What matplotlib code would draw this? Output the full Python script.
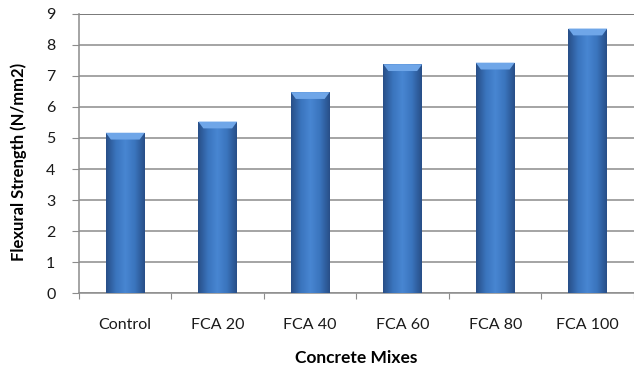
import numpy as np
import matplotlib.pyplot as plt
from matplotlib.colors import LinearSegmentedColormap

plt.rcParams['font.family'] = ['Lato', 'DejaVu Sans']

mixes = ['Control', 'FCA 20', 'FCA 40', 'FCA 60', 'FCA 80', 'FCA 100']
strength = [5.17, 5.53, 6.48, 7.38, 7.43, 8.53]

fig = plt.figure(figsize=(6.34, 3.71), dpi=100)
ax = fig.add_axes([0.1246, 0.2102, 0.8754, 0.7521])

x = np.arange(len(mixes))
bars = ax.bar(x, strength, width=0.42, color='#3f7cc8', zorder=3)

# horizontal shading like the excel bevel
shade = LinearSegmentedColormap.from_list(
    'bevel', ['#284f88', '#3a74bd', '#4886d2', '#3a74bd', '#284f88'])
grad = np.linspace(0, 1, 64).reshape(1, -1)
for b in bars:
    x0, w, h = b.get_x(), b.get_width(), b.get_height()
    im = ax.imshow(grad, cmap=shade, aspect='auto', zorder=3.5,
                   extent=[x0, x0 + w, 0, h])
    im.set_clip_path(b)
    # lighter top bevel
    ax.fill([x0, x0 + w, x0 + w * 0.87, x0 + w * 0.13],
            [h, h, h - 0.22, h - 0.22], color='#6fa6e8', zorder=4, lw=0)

ax.set_xlim(-0.5, len(mixes) - 0.5)
ax.set_ylim(0, 9)
ax.set_yticks(range(10))
ax.yaxis.grid(True, color='#8c8c8c', lw=1.1, zorder=0)
ax.axhline(9, color='#404040', lw=1.4, zorder=1)

ax.set_xticks(np.arange(-0.5, len(mixes)), labels=[])
ax.set_xticks(x, labels=mixes, minor=True)
ax.tick_params(axis='x', which='major', length=4, color='#8c8c8c')
ax.tick_params(axis='x', which='minor', length=0, pad=18)
ax.tick_params(axis='y', length=5, color='#8c8c8c', pad=12)
ax.tick_params(which='both', labelsize=11.5, labelcolor='#1a1a1a')

for s in ['top', 'right']:
    ax.spines[s].set_visible(False)
for s in ['left', 'bottom']:
    ax.spines[s].set_color('#8c8c8c')
    ax.spines[s].set_linewidth(1.1)

ax.set_xlabel('Concrete Mixes', fontsize=12.5, fontweight='bold', labelpad=13)
ax.set_ylabel('Flexural Strength (N/mm2)', fontsize=12, fontweight='bold')
ax.yaxis.set_label_coords(-0.093, 0.47)

fig.savefig('out.png', dpi=100)
